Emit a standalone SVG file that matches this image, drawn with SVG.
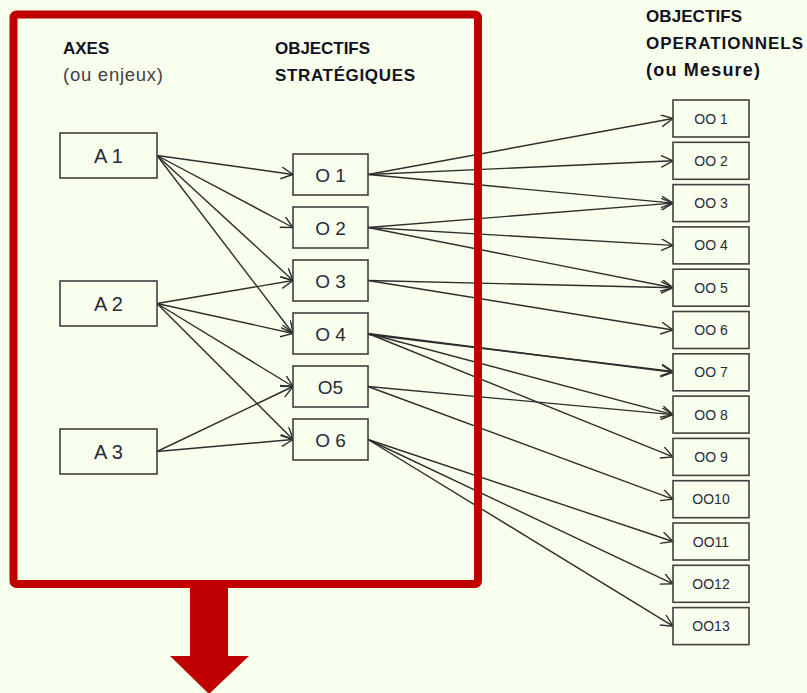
<svg xmlns="http://www.w3.org/2000/svg" width="807" height="693" viewBox="0 0 807 693">
<style>
.bg{fill:#F8FFEC}
.box{fill:#F8FFEC;stroke:#404040;stroke-width:1.6}
.hdr{font-family:"Liberation Sans",Arial,sans-serif;font-weight:bold;font-size:17px;fill:#111122}
.sub{font-family:"Liberation Sans",Arial,sans-serif;font-size:18.5px;fill:#404048}
.ta{font-family:"Liberation Sans",Arial,sans-serif;font-size:20px;fill:#2a2a3a;text-anchor:middle}
.to{font-family:"Liberation Sans",Arial,sans-serif;font-size:19px;fill:#2a2a3a;text-anchor:middle}
.too{font-family:"Liberation Sans",Arial,sans-serif;font-size:14px;fill:#2a2a3a;text-anchor:middle}
.edge{stroke:#2e2e2e;stroke-width:1.4;fill:none;marker-end:url(#arr)}
</style>
<defs>
<marker id="arr" markerUnits="userSpaceOnUse" markerWidth="14" markerHeight="14" refX="12" refY="6" orient="auto">
<path d="M0,0 L12,6 L0,12" fill="none" stroke="#2e2e2e" stroke-width="1.4"/>
</marker>
</defs>
<rect class="bg" x="0" y="0" width="807" height="693"/>

<g id="connectors">
<!-- A1 -->
<line class="edge" x1="157" y1="155.5" x2="293" y2="174.5"/>
<line class="edge" x1="157" y1="155.5" x2="293" y2="227.5"/>
<line class="edge" x1="157" y1="155.5" x2="293" y2="280.5"/>
<line class="edge" x1="157" y1="155.5" x2="293" y2="333.5"/>
<!-- A2 -->
<line class="edge" x1="157" y1="303.5" x2="293" y2="280.5"/>
<line class="edge" x1="157" y1="303.5" x2="293" y2="333.5"/>
<line class="edge" x1="157" y1="303.5" x2="293" y2="386.5"/>
<line class="edge" x1="157" y1="303.5" x2="293" y2="439.5"/>
<!-- A3 -->
<line class="edge" x1="157" y1="451.5" x2="293" y2="386.5"/>
<line class="edge" x1="157" y1="451.5" x2="293" y2="439.5"/>
<!-- O1 -->
<line class="edge" x1="368" y1="174.5" x2="673" y2="118.5"/>
<line class="edge" x1="368" y1="174.5" x2="673" y2="160.8"/>
<line class="edge" x1="368" y1="174.5" x2="673" y2="203.1"/>
<!-- O2 -->
<line class="edge" x1="368" y1="227.5" x2="673" y2="203.1"/>
<line class="edge" x1="368" y1="227.5" x2="673" y2="245.4"/>
<line class="edge" x1="368" y1="227.5" x2="673" y2="287.7"/>
<!-- O3 -->
<line class="edge" x1="368" y1="280.5" x2="673" y2="287.7"/>
<line class="edge" x1="368" y1="280.5" x2="673" y2="330"/>
<!-- O4 -->
<line class="edge" x1="368" y1="333.5" x2="673" y2="372.3"/>
<line class="edge" x1="368" y1="334.5" x2="673" y2="371.5"/>
<line class="edge" x1="368" y1="333.5" x2="673" y2="414.6"/>
<line class="edge" x1="368" y1="333.5" x2="673" y2="456.9"/>
<!-- O5 -->
<line class="edge" x1="368" y1="386.5" x2="673" y2="414.6"/>
<line class="edge" x1="368" y1="386.5" x2="673" y2="499.2"/>
<!-- O6 -->
<line class="edge" x1="368" y1="439.5" x2="673" y2="541.5"/>
<line class="edge" x1="368" y1="439.5" x2="673" y2="583.8"/>
<line class="edge" x1="368" y1="439.5" x2="673" y2="626.1"/>
</g>

<g id="frame">
<rect x="13.5" y="14.5" width="464.5" height="569.5" rx="3" fill="none" stroke="#C00000" stroke-width="8"/>
<polygon points="190,584 228,584 228,656 249,656 209,694 170,656 190,656" fill="#C00000"/>
</g>

<g id="headers">
<text class="hdr" x="63" y="54">AXES</text>
<text class="sub" x="63" y="81" textLength="100">(ou enjeux)</text>
<text class="hdr" x="275" y="54" textLength="95">OBJECTIFS</text>
<text class="hdr" x="275" y="81" textLength="140">STRATÉGIQUES</text>
<text class="hdr" x="646" y="22" textLength="96">OBJECTIFS</text>
<text class="hdr" x="646" y="49" textLength="157">OPERATIONNELS</text>
<text class="hdr" x="646" y="76" style="font-size:18px" textLength="114">(ou Mesure)</text>
</g>

<g id="A1"><rect class="box" x="60" y="133" width="97" height="45"/><text class="ta" x="108.5" y="162.5">A 1</text></g>
<g id="A2"><rect class="box" x="60" y="281" width="97" height="45"/><text class="ta" x="108.5" y="310.5">A 2</text></g>
<g id="A3"><rect class="box" x="60" y="429" width="97" height="45"/><text class="ta" x="108.5" y="458.5">A 3</text></g>

<g id="O1"><rect class="box" x="293" y="154" width="75" height="41"/><text class="to" x="330.5" y="181.5">O 1</text></g>
<g id="O2"><rect class="box" x="293" y="207" width="75" height="41"/><text class="to" x="330.5" y="234.5">O 2</text></g>
<g id="O3"><rect class="box" x="293" y="260" width="75" height="41"/><text class="to" x="330.5" y="287.5">O 3</text></g>
<g id="O4"><rect class="box" x="293" y="313" width="75" height="41"/><text class="to" x="330.5" y="340.5">O 4</text></g>
<g id="O5"><rect class="box" x="293" y="366" width="75" height="41"/><text class="to" x="330.5" y="393.5">O5</text></g>
<g id="O6"><rect class="box" x="293" y="419" width="75" height="41"/><text class="to" x="330.5" y="446.5">O 6</text></g>

<g id="OO1"><rect class="box" x="673" y="100" width="76" height="37"/><text class="too" x="711" y="123.5">OO 1</text></g>
<g id="OO2"><rect class="box" x="673" y="142.3" width="76" height="37"/><text class="too" x="711" y="165.8">OO 2</text></g>
<g id="OO3"><rect class="box" x="673" y="184.6" width="76" height="37"/><text class="too" x="711" y="208.1">OO 3</text></g>
<g id="OO4"><rect class="box" x="673" y="226.9" width="76" height="37"/><text class="too" x="711" y="250.4">OO 4</text></g>
<g id="OO5"><rect class="box" x="673" y="269.2" width="76" height="37"/><text class="too" x="711" y="292.7">OO 5</text></g>
<g id="OO6"><rect class="box" x="673" y="311.5" width="76" height="37"/><text class="too" x="711" y="335">OO 6</text></g>
<g id="OO7"><rect class="box" x="673" y="353.8" width="76" height="37"/><text class="too" x="711" y="377.3">OO 7</text></g>
<g id="OO8"><rect class="box" x="673" y="396.1" width="76" height="37"/><text class="too" x="711" y="419.6">OO 8</text></g>
<g id="OO9"><rect class="box" x="673" y="438.4" width="76" height="37"/><text class="too" x="711" y="461.9">OO 9</text></g>
<g id="OO10"><rect class="box" x="673" y="480.7" width="76" height="37"/><text class="too" x="711" y="504.2">OO10</text></g>
<g id="OO11"><rect class="box" x="673" y="523" width="76" height="37"/><text class="too" x="711" y="546.5">OO11</text></g>
<g id="OO12"><rect class="box" x="673" y="565.3" width="76" height="37"/><text class="too" x="711" y="588.8">OO12</text></g>
<g id="OO13"><rect class="box" x="673" y="607.6" width="76" height="37"/><text class="too" x="711" y="631.1">OO13</text></g>
</svg>
